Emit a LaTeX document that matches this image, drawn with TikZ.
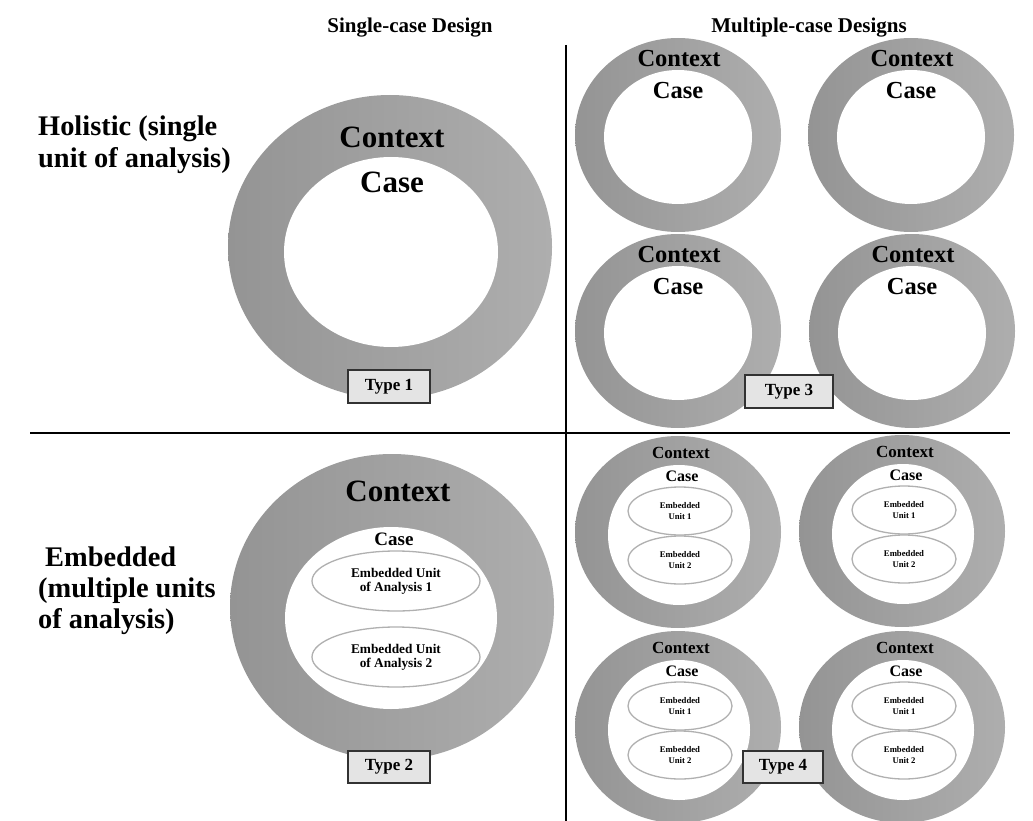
\documentclass[tikz,border=0pt]{standalone}
\usepackage{fontspec}
\setmainfont{Liberation Serif}
\usetikzlibrary{shapes.geometric}

\definecolor{ringdark}{RGB}{148,148,148}
\definecolor{ringlight}{RGB}{174,174,174}
\definecolor{unitline}{RGB}{176,176,176}
\definecolor{tagfill}{RGB}{228,228,228}
\definecolor{tagline}{RGB}{50,50,50}

\newcommand{\fsz}[2]{\fontsize{#1}{#2}\selectfont\bfseries}

\tikzset{
  ring/.style={ellipse, inner sep=0pt, outer sep=0pt, left color=ringdark, right color=ringlight, draw=none},
  hole/.style={ellipse, inner sep=0pt, outer sep=0pt, fill=white, draw=none},
  unit/.style={ellipse, inner sep=0pt, fill=white, draw=unitline, line width=1.3pt, align=center},
  tag/.style={rectangle, draw=tagline, fill=tagfill, line width=1.8pt, inner sep=0pt, font=\fsz{17}{20}},
  label/.style={inner sep=0pt, align=center},
  divider/.style={line width=2pt, black},
}

\begin{document}
\begin{tikzpicture}[x=1pt, y=-1pt]
\useasboundingbox (0,0) rectangle (1033,821);

% column headings
\node[label, font=\fsz{21}{24}] (hsingle) at (410,28) {Single-case Design};
\node[label, font=\fsz{21}{24}] (hmulti) at (809,28) {Multiple-case Designs};

% row headings
\node[label, anchor=west, align=left, font=\fsz{28.4}{32}] (rholistic) at (38,145) {Holistic (single\\unit of analysis)};
\node[label, anchor=west, align=left, font=\fsz{28.4}{31}] (rembedded) at (38,591) {\hspace{7pt}Embedded\\(multiple units\\of analysis)};

% quadrant dividers
\coordinate (vtop) at (566,45);
\coordinate (vbot) at (566,821);
\coordinate (hleft) at (30,433);
\coordinate (hright) at (1010,433);
\draw[divider] (vtop) -- (vbot);
\draw[divider] (hleft) -- (hright);

% ---------- Type 1: single holistic case ----------
\node[ring, minimum width=324pt, minimum height=304pt] (t1ctx) at (390,247) {};
\node[hole, minimum width=214pt, minimum height=190pt] (t1case) at (391,252) {};
\node[label, font=\fsz{31}{34}] (t1ctxl) at (392,137) {Context};
\node[label, font=\fsz{31}{34}] (t1casel) at (392,182) {Case};
\node[tag, minimum width=82pt, minimum height=33pt] (type1) at (389,386.5) {Type 1};

% ---------- Type 2: single embedded case ----------
\node[ring, minimum width=324pt, minimum height=306pt] (t2ctx) at (392,607) {};
\node[hole, minimum width=212pt, minimum height=182pt] (t2case) at (391,618) {};
\node[label, font=\fsz{31}{34}] (t2ctxl) at (398,491) {Context};
\node[label, font=\fsz{19}{22}] (t2casel) at (394,539) {Case};
\node[unit, minimum width=168pt, minimum height=60pt, font=\fsz{13.3}{14}] (t2u1) at (396,581) {Embedded Unit\\of Analysis 1};
\node[unit, minimum width=168pt, minimum height=60pt, font=\fsz{13.3}{14}] (t2u2) at (396,657) {Embedded Unit\\of Analysis 2};
\node[tag, minimum width=82pt, minimum height=32pt] (type2) at (389,767) {Type 2};

% ---------- Type 3: multiple holistic cases ----------
\foreach \n/\cx/\cy in {a/678/135, b/911/135, c/678/331, d/912/331} {
  \node[ring, minimum width=206pt, minimum height=194pt] (t3ctx\n) at (\cx,\cy) {};
  \node[hole, minimum width=148pt, minimum height=134pt] (t3case\n) at (\cx,\cy+2) {};
  \node[label, font=\fsz{24.5}{27}] (t3ctxl\n) at (\cx+1,\cy-76) {Context};
  \node[label, font=\fsz{24.5}{27}] (t3casel\n) at (\cx,\cy-44) {Case};
}
\node[tag, minimum width=88pt, minimum height=33pt] (type3) at (789,391.5) {Type 3};

% ---------- Type 4: multiple embedded cases ----------
\foreach \n/\cx/\cy in {a/678/532, b/902/531, c/678/727, d/902/727} {
  \node[ring, minimum width=206pt, minimum height=192pt] (t4ctx\n) at (\cx,\cy) {};
  \node[hole, minimum width=142pt, minimum height=140pt] (t4case\n) at (\cx+1,\cy+3) {};
  \node[label, font=\fsz{17}{19}] (t4ctxl\n) at (\cx+3,\cy-79) {Context};
  \node[label, font=\fsz{16}{18}] (t4casel\n) at (\cx+4,\cy-56) {Case};
  \node[unit, minimum width=104pt, minimum height=48pt, font=\fsz{8.7}{10.5}] (t4u1\n) at (\cx+2,\cy-21) {Embedded\\Unit 1};
  \node[unit, minimum width=104pt, minimum height=48pt, font=\fsz{8.7}{10.5}] (t4u2\n) at (\cx+2,\cy+28) {Embedded\\Unit 2};
}
\node[tag, minimum width=80pt, minimum height=32pt] (type4) at (783,767) {Type 4};

\end{tikzpicture}
\end{document}
